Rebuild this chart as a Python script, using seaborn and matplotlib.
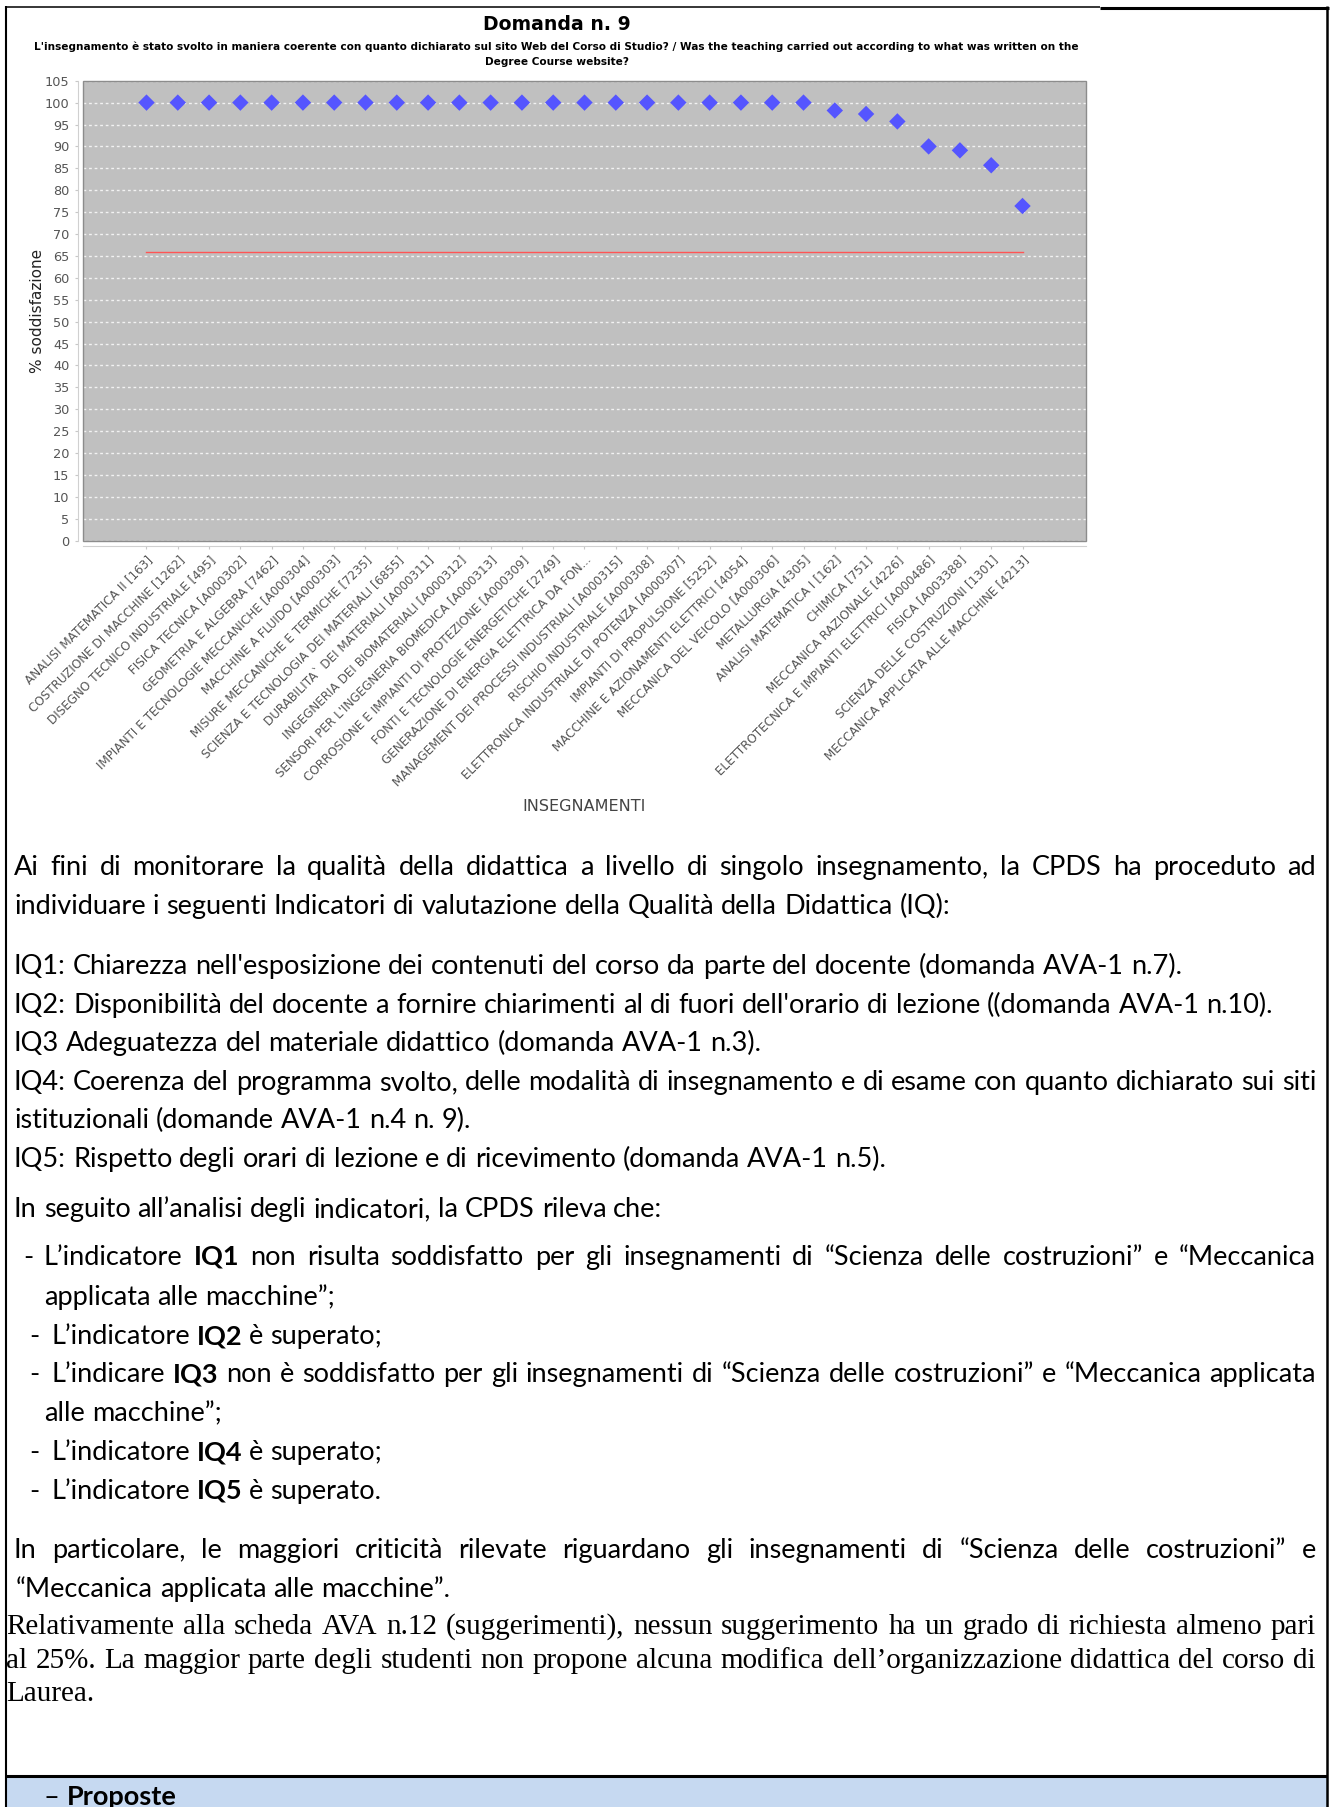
import numpy as np
import pandas as pd
import matplotlib
matplotlib.use("Agg")
import matplotlib.pyplot as plt
from matplotlib import font_manager
from matplotlib.patches import Rectangle
import seaborn as sns

W, H = 1330, 1807

# Domanda n. 9 - insegnamenti e % di soddisfazione
corsi = [
    "ANALISI MATEMATICA II [163]",
    "COSTRUZIONE DI MACCHINE [1262]",
    "DISEGNO TECNICO INDUSTRIALE [495]",
    "FISICA TECNICA [A000302]",
    "GEOMETRIA E ALGEBRA [7462]",
    "IMPIANTI E TECNOLOGIE MECCANICHE [A000304]",
    "MACCHINE A FLUIDO [A000303]",
    "MISURE MECCANICHE E TERMICHE [7235]",
    "SCIENZA E TECNOLOGIA DEI MATERIALI [6855]",
    "DURABILITA` DEI MATERIALI [A000311]",
    "INGEGNERIA DEI BIOMATERIALI [A000312]",
    "SENSORI PER L'INGEGNERIA BIOMEDICA [A000313]",
    "CORROSIONE E IMPIANTI DI PROTEZIONE [A000309]",
    "FONTI E TECNOLOGIE ENERGETICHE [2749]",
    "GENERAZIONE DI ENERGIA ELETTRICA DA FON...",
    "MANAGEMENT DEI PROCESSI INDUSTRIALI [A000315]",
    "RISCHIO INDUSTRIALE [A000308]",
    "ELETTRONICA INDUSTRIALE DI POTENZA [A000307]",
    "IMPIANTI DI PROPULSIONE [5252]",
    "MACCHINE E AZIONAMENTI ELETTRICI [4054]",
    "MECCANICA DEL VEICOLO [A000306]",
    "METALLURGIA [4305]",
    "ANALISI MATEMATICA I [162]",
    "CHIMICA [751]",
    "MECCANICA RAZIONALE [4226]",
    "ELETTROTECNICA E IMPIANTI ELETTRICI [A000486]",
    "FISICA [A003388]",
    "SCIENZA DELLE COSTRUZIONI [1301]",
    "MECCANICA APPLICATA ALLE MACCHINE [4213]",
]
soddisfazione = [100, 100, 100, 100, 100, 100, 100, 100, 100, 100, 100,
                 100, 100, 100, 100, 100, 100, 100, 100, 100, 100, 100,
                 98.2, 97.4, 95.7, 90.0, 89.1, 85.7, 76.4]
soglia = 66
y_ticks = [0, 5, 10, 15, 20, 25, 30, 35, 40, 45, 50, 55, 60, 65, 70,
           75, 80, 85, 90, 95, 100, 105]

titolo = "Domanda n. 9"
sottotitolo = ["L'insegnamento è stato svolto in maniera coerente con quanto dichiarato sul sito Web del Corso di Studio? / Was the teaching carried out according to what was written on the",
               "Degree Course website?"]

df = pd.DataFrame({"corso": corsi, "soddisfazione": soddisfazione})
df["pos"] = np.arange(len(df))
df["soglia"] = soglia

installed = {f.name for f in font_manager.fontManager.ttflist}
narrow = "Liberation Sans Narrow" if "Liberation Sans Narrow" in installed else "DejaVu Sans"
body_font = "Lato" if "Lato" in installed else "DejaVu Sans"
serif_font = "Liberation Serif" if "Liberation Serif" in installed else "DejaVu Serif"

fig = plt.figure(figsize=(W / 100, H / 100), dpi=100)
fig.patch.set_facecolor("white")

# page overlay in pixel units
page = fig.add_axes([0, 0, 1, 1], zorder=0)
page.set_xlim(0, W)
page.set_ylim(H, 0)
page.axis("off")
renderer = fig.canvas.get_renderer()


def text_width(s, size, family, weight="normal"):
    t = page.text(0, 0, s, fontsize=size, family=family, weight=weight)
    w = t.get_window_extent(renderer).width
    t.remove()
    return w


def fit_size(s, target, family, weight="normal"):
    return 10 * target / text_width(s, 10, family, weight)


def write_line(riga, x0, y, size, family, x1=None):
    """Write one line word by word; justify it to x1 when given."""
    parole = []
    for tok in riga.split():
        if tok.startswith("**") and tok.endswith("**"):
            parole.append((tok[2:-2], "bold"))
        else:
            parole.append((tok, "normal"))
    larghezze = [text_width(p, size, family, w) for p, w in parole]
    spazio = text_width("a a", size, family) - text_width("aa", size, family)
    if x1 is not None and len(parole) > 1:
        spazio = (x1 - x0 - sum(larghezze)) / (len(parole) - 1)
    x = x0
    for (p, w), l in zip(parole, larghezze):
        page.text(x, y, p, fontsize=size, family=family, weight=w,
                  va="baseline", ha="left", color="black")
        x += l + spazio


# ---- chart ----
ax = fig.add_axes([83.3 / W, 1 - 540.7 / H, 1002.4 / W, 460 / H], zorder=1)
ax.set_facecolor("#C0C0C0")
# spine positions first: moving them resets the ticks
for s in ["top", "right"]:
    ax.spines[s].set_visible(False)
for s in ["left", "bottom"]:
    ax.spines[s].set_position(("outward", 4))
    ax.spines[s].set_color("#D0D0D0")
ax.yaxis.grid(True, color="#F2F2F2", linestyle=(0, (2, 2)), linewidth=1)
ax.set_axisbelow(True)

sns.lineplot(data=df, x="pos", y="soglia", color="#FF5555", linewidth=1,
             ax=ax, zorder=2)
sns.scatterplot(data=df, x="pos", y="soddisfazione", marker="D", s=70,
                color="#5555FF", edgecolor="none", ax=ax, zorder=3)

ax.set_xlim(-2.02, len(corsi) + 1.02)
ax.set_ylim(0, 105)
ax.set_yticks(y_ticks)
ax.set_xticks(df["pos"])
ax.tick_params(axis="y", labelsize=9.3, labelcolor="#555555", length=2,
               color="#C8C8C8", pad=4)
ax.tick_params(axis="x", length=2, color="#C8C8C8", pad=3)
xsize = fit_size(corsi[-1], 284, "DejaVu Sans")
ax.set_xticklabels(corsi, rotation=45, rotation_mode="anchor", ha="right",
                   va="top", fontsize=xsize, color="#555555")
ax.add_patch(Rectangle((0, 0), 1, 1, transform=ax.transAxes, fill=False,
                       ec="#8C8C8C", lw=1, clip_on=False, zorder=4))

ax.set_ylabel("% soddisfazione", fontsize=11, color="#222222")
ax.yaxis.set_label_coords(-0.038, 0.5)
ax.set_xlabel("INSEGNAMENTI", fontsize=11.5, color="#444444")
ax.xaxis.label.set_va("center")
ax.xaxis.set_label_coords(0.5, -0.577)

page.text(557, 30, titolo, ha="center", va="baseline", family=narrow,
          weight="bold", fontsize=fit_size(titolo, 148, narrow, "bold"))
sub_size = fit_size(sottotitolo[0], 1048, narrow, "bold")
page.text(556, 50, sottotitolo[0], ha="center", va="baseline", family=narrow,
          weight="bold", fontsize=sub_size)
page.text(557, 65, sottotitolo[1], ha="center", va="baseline", family=narrow,
          weight="bold", fontsize=sub_size)

# ---- page borders ----
k = dict(color="black", solid_capstyle="butt", clip_on=False)
page.plot([6, 1100], [7, 7], lw=1.1, **k)
page.plot([1100, 1329], [8, 8], lw=2.2, **k)
page.plot([6, 6], [6, H], lw=1.5, **k)
page.plot([1327, 1327], [6, H], lw=1.8, **k)
page.add_patch(Rectangle((6, 1777), 1321, 40, color="#C6D9F1", zorder=0))
page.plot([6, 1327], [1776, 1776], lw=2.2, **k)

# ---- body text ----
size = fit_size("IQ2: Disponibilità del docente a fornire chiarimenti al di fuori dell'orario di lezione ((domanda AVA-1 n.10).",
                1265, body_font)
R = 1316
righe = [
    ("Ai fini di monitorare la qualità della didattica a livello di singolo insegnamento, la CPDS ha proceduto ad", 14, 867, R),
    ("individuare i seguenti Indicatori di valutazione della Qualità della Didattica (IQ):", 14, 906, None),
    ("IQ1: Chiarezza nell'esposizione dei contenuti del corso da parte del docente (domanda AVA-1 n.7).", 14, 966, None),
    ("IQ2: Disponibilità del docente a fornire chiarimenti al di fuori dell'orario di lezione ((domanda AVA-1 n.10).", 14, 1005, None),
    ("IQ3 Adeguatezza del materiale didattico (domanda AVA-1 n.3).", 14, 1043, None),
    ("IQ4: Coerenza del programma svolto, delle modalità di insegnamento e di esame con quanto dichiarato sui siti", 14, 1082, R),
    ("istituzionali (domande AVA-1 n.4 n. 9).", 14, 1120, None),
    ("IQ5: Rispetto degli orari di lezione e di ricevimento (domanda AVA-1 n.5).", 14, 1159, None),
    ("In seguito all’analisi degli indicatori, la CPDS rileva che:", 14, 1209, None),
    ("-", 23, 1257, None),
    ("L’indicatore **IQ1** non risulta soddisfatto per gli insegnamenti di “Scienza delle costruzioni” e “Meccanica", 44, 1257, R),
    ("applicata alle macchine”;", 44, 1297, None),
    ("-", 29, 1336, None),
    ("L’indicatore **IQ2** è superato;", 51, 1336, None),
    ("-", 29, 1374, None),
    ("L’indicare **IQ3** non è soddisfatto per gli insegnamenti di “Scienza delle costruzioni” e “Meccanica applicata", 51, 1374, R),
    ("alle macchine”;", 44, 1413, None),
    ("-", 29, 1452, None),
    ("L’indicatore **IQ4** è superato;", 51, 1452, None),
    ("-", 29, 1491, None),
    ("L’indicatore **IQ5** è superato.", 51, 1491, None),
    ("In particolare, le maggiori criticità rilevate riguardano gli insegnamenti di “Scienza delle costruzioni” e", 14, 1550, R),
    ("“Meccanica applicata alle macchine”.", 16, 1589, None),
]
for testo, x0, yc, x1 in righe:
    write_line(testo, x0, yc + 8, size, body_font, x1)

ssize = fit_size("Laurea.", 88, serif_font)
righe_serif = [
    ("Relativamente alla scheda AVA n.12 (suggerimenti), nessun suggerimento ha un grado di richiesta almeno pari", 6, 1626, R),
    ("al 25%. La maggior parte degli studenti non propone alcuna modifica dell’organizzazione didattica del corso di", 6, 1660, R),
    ("Laurea.", 6, 1693, None),
]
for testo, x0, yc, x1 in righe_serif:
    write_line(testo, x0, yc + 8, ssize, serif_font, x1)

write_line("– **Proposte**", 44, 1805, size, body_font)

fig.savefig("out.png", dpi=100)
